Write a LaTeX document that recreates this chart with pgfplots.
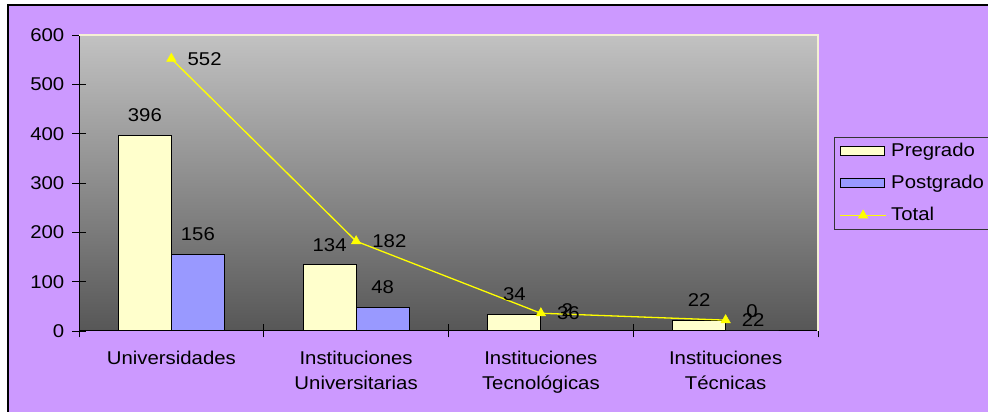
\documentclass[border=0pt]{standalone}
\usepackage{pgfplots}
\pgfplotsset{compat=1.18}
\usepackage{fontspec}
\setmainfont{Liberation Sans}[FakeStretch=1.1]

\definecolor{fondo}{HTML}{CC99FF}
\definecolor{pregrado}{HTML}{FFFFCC}
\definecolor{postgrado}{HTML}{9999FF}
\definecolor{total}{HTML}{FFFF00}
\definecolor{borde}{HTML}{F4F0D4}

\pgfplotsset{
  barlegend/.style={legend image code/.code={\draw[fill=#1, draw=black, line width=0.9pt] (0pt,-4.5pt) rectangle (44pt,4.5pt);}},
  linelegend/.style={legend image code/.code={\draw[mark repeat=2, mark phase=2, ##1] plot coordinates {(0pt,0pt) (23pt,0pt) (46pt,0pt)};}},
}

\begin{document}
\fontsize{18.5pt}{25pt}\selectfont
\begin{tikzpicture}[x=1pt,y=1pt]
\path[use as bounding box] (0,0) rectangle (988,412);
\fill[white] (0,0) rectangle (988,412);
\fill[fondo] (8,-2) rectangle (992,407);
\draw[black, line width=1.2pt] (8,-2) -- (8,407) -- (992,407);
\begin{axis}[
  at={(79pt,81pt)}, anchor=south west,
  scale only axis, width=739pt, height=296pt,
  xmin=-0.5, xmax=3.5, ymin=0, ymax=600,
  axis lines*=left,
  axis line style={black, line width=1pt},
  axis background/.style={top color=black!24, bottom color=black!66},
  clip=false,
  /pgf/number format/assume math mode=true,
  tick align=center,
  major tick length=13pt, minor tick length=13pt,
  tick style={black, line width=0.9pt},
  ytick={0,100,...,600},
  yticklabel style={inner sep=0pt, xshift=-8pt},
  xtick={0,1,2,3},
  xticklabels={Universidades, {Instituciones\\Universitarias}, {Instituciones\\Tecnológicas}, {Instituciones\\Técnicas}},
  xticklabel style={align=center, inner sep=0pt, yshift=-13pt},
  major x tick style={draw=none},
  minor xtick={-0.5,0.5,1.5,2.5,3.5},
  legend cell align=left,
  legend style={at={(rel axis cs:1.0217,0.655)}, anchor=north west,
    draw=black!80, line width=0.8pt, fill=none,
    inner xsep=5pt, inner ysep=4pt, row sep=13pt, column sep=3pt,
    nodes={inner sep=1.5pt}},
]
% Pregrado
\addplot[ybar, bar width=53pt, bar shift=-26.5pt, fill=pregrado, draw=black, line width=1pt,
  nodes near coords,
  every node near coord/.append style={anchor=south, inner sep=0pt, xshift=-26.5pt, yshift=13pt, black},
  barlegend=pregrado]
  coordinates {(0,396) (1,134) (2,34) (3,22)};
\addlegendentry{Pregrado}
% Postgrado
\addplot[ybar, bar width=53pt, bar shift=26.5pt, fill=postgrado, draw=black, line width=1pt,
  nodes near coords,
  every node near coord/.append style={anchor=south, inner sep=0pt, xshift=26.5pt, yshift=13pt, black},
  barlegend=postgrado]
  coordinates {(0,156) (1,48) (2,2) (3,0)};
\addlegendentry{Postgrado}
% Total
\addplot[total, line width=1.3pt, mark=triangle*, mark size=5.5pt,
  mark options={fill=total, draw=total, line width=0.5pt},
  nodes near coords,
  every node near coord/.append style={anchor=west, inner sep=0pt, xshift=16pt, yshift=0pt, black},
  linelegend]
  coordinates {(0,552) (1,182) (2,36) (3,22)};
\addlegendentry{Total}
% plot-area frame on the top and right sides
\draw[borde, line width=1.6pt] (rel axis cs:0,1) -- (rel axis cs:1,1) -- (rel axis cs:1,0);
\end{axis}
\end{tikzpicture}
\end{document}
